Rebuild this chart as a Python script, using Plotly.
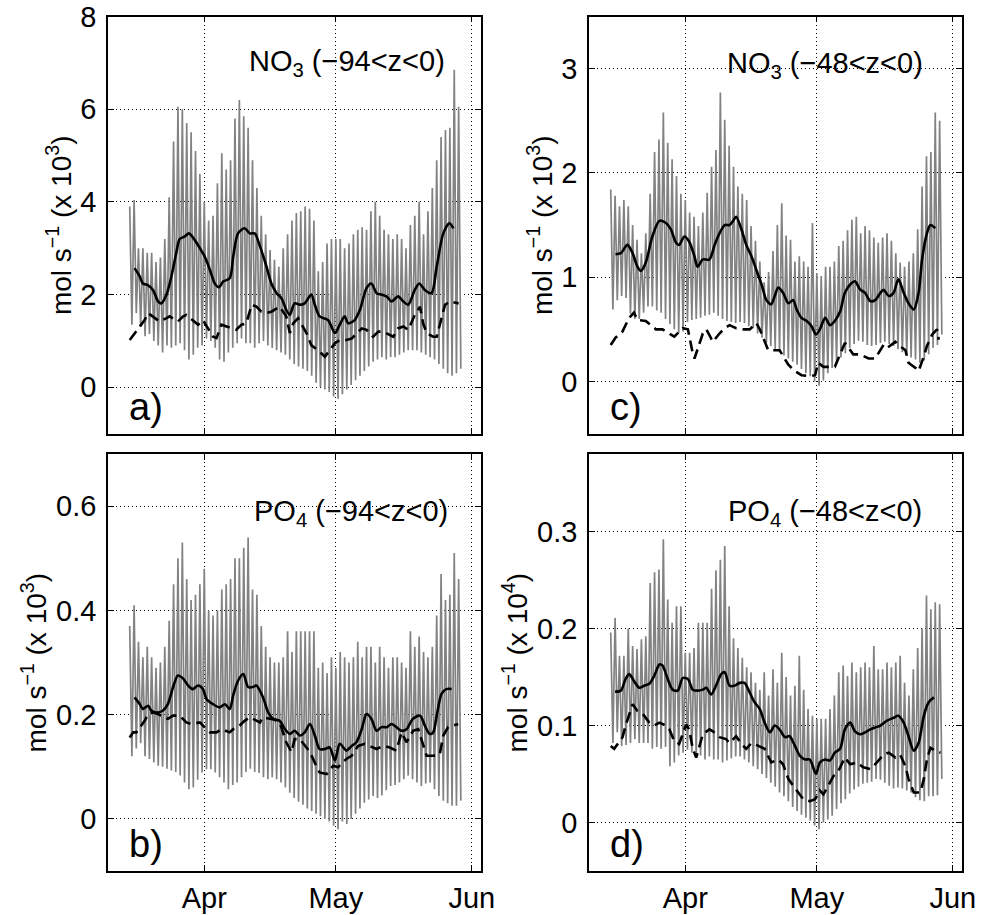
import plotly.graph_objects as go
from datetime import date

# ---------------- data (days since 15 March) ----------------
START = date(2005, 3, 15)
MONTHS = [date(2005, 4, 1), date(2005, 5, 1), date(2005, 6, 1)]
MONTH_LABELS = ["Apr", "May", "Jun"]

# Panel a: NO3 (-94<z<0), units 10^3 mol/s
a_hi = [3.9, 4.04, 3.0, 3.0, 2.9, 2.9, 2.7, 2.8, 3.2, 4.1, 5.3, 6.05, 6.0, 5.7, 5.5, 5.1, 4.6, 4.0, 3.6, 3.7,
        4.4, 5.05, 4.7, 4.9, 5.8, 6.2, 5.85, 5.6, 4.9, 4.3, 3.7, 3.3, 2.96, 2.75, 2.6, 3.0, 3.3, 3.6, 3.76, 3.8,
        3.9, 3.85, 3.6, 2.5, 2.7, 3.1, 3.2, 3.2, 3.2, 3.0, 3.1, 3.3, 3.4, 3.45, 3.4, 3.8, 4.0, 3.7, 3.4, 3.3,
        3.2, 3.3, 3.2, 3.0, 3.5, 3.7, 4.0, 3.3, 3.8, 4.3, 4.9, 5.4, 5.55, 5.6, 6.85, 6.05]
a_lo = [1.35, 1.6, 1.3, 1.1, 1.15, 1.0, 0.9, 0.75, 0.9, 0.85, 0.9, 0.95, 0.8, 0.6, 0.7, 0.85, 0.9, 1.05, 1.0, 0.85,
        0.6, 0.55, 0.75, 0.85, 0.95, 1.05, 0.95, 0.95, 0.85, 0.95, 1.0, 0.9, 0.85, 0.8, 0.75, 0.7, 0.6, 0.5, 0.45, 0.4,
        0.35, 0.25, 0.1, 0.0, -0.05, -0.1, -0.2, -0.25, -0.15, -0.05, 0.05, 0.15, 0.25, 0.35, 0.45, 0.55, 0.6, 0.65, 0.6, 0.65,
        0.65, 0.7, 0.75, 0.8, 0.8, 0.8, 0.75, 0.7, 0.65, 0.6, 0.5, 0.4, 0.3, 0.25, 0.3, 0.4]
a_mean_day = [1.1, 2.3, 3.0, 4.2, 5.3, 6.5, 7.2, 8.4, 9.5, 10.6, 11.4, 12.5, 13.5, 14.8, 16.0, 17.1, 18.3, 19.4, 20.4, 21.3,
              22.8, 23.6, 24.7, 26.2, 27.4, 28.5, 29.7, 31.2, 32.3, 33.5, 34.6, 35.7, 36.5, 37.6, 38.8, 39.9, 41.4, 42.2, 43.3, 45.2,
              46.8, 47.9, 49.0, 49.8, 51.3, 52.5, 54.0, 55.1, 56.3, 57.4, 58.6, 59.7, 61.2, 62.4, 63.5, 65.0, 66.0, 67.3, 68.8, 70.0,
              71.5, 72.9, 73.8]
a_mean_val = [2.57, 2.39, 2.24, 2.2, 2.1, 1.85, 1.81, 2.0, 2.39, 2.89, 3.2, 3.25, 3.32, 3.18, 3.0, 2.82, 2.53, 2.24, 2.16, 2.28,
              2.35, 2.82, 3.32, 3.43, 3.32, 3.32, 3.04, 2.6, 2.24, 2.03, 1.92, 1.67, 1.56, 1.81, 1.78, 1.81, 2.0, 1.78, 1.53, 1.45,
              1.17, 1.35, 1.53, 1.38, 1.45, 1.67, 2.14, 2.24, 2.03, 2.0, 1.96, 1.85, 1.96, 1.85, 1.78, 2.1, 2.24, 2.1, 2.03, 2.6,
              3.32, 3.54, 3.43]
a_dash_day = [0, 1.5, 3.4, 4.2, 5.3, 6.8, 8.4, 9.1, 11.0, 12.2, 12.9, 15.6, 16.7, 19.0, 19.8, 20.9, 22.1, 24.3, 25.5, 26.6,
              27.8, 28.9, 30.0, 31.2, 32.3, 33.5, 34.2, 35.7, 36.5, 37.3, 38.4, 40.3, 41.4, 43.3, 44.5, 46.8, 47.9, 49.4, 50.6, 52.9,
              54.0, 55.5, 56.7, 57.8, 60.1, 61.2, 62.4, 63.5, 65.0, 66.2, 66.9, 67.7, 69.2, 70.0, 70.7, 71.9, 73.0, 75.0]
a_dash_val = [1.02, 1.2, 1.45, 1.6, 1.53, 1.42, 1.49, 1.53, 1.42, 1.53, 1.56, 1.35, 1.45, 1.09, 1.06, 1.35, 1.31, 1.24, 1.35, 1.38,
              1.78, 1.74, 1.63, 1.6, 1.63, 1.7, 1.74, 1.53, 1.17, 1.38, 1.49, 1.17, 0.91, 0.77, 0.66, 0.95, 1.02, 1.02, 1.05, 1.27,
              1.24, 1.09, 1.2, 1.2, 1.09, 1.27, 1.31, 1.24, 1.56, 1.74, 1.38, 1.17, 1.09, 1.09, 1.35, 1.78, 1.85, 1.81]

# Panel c: NO3 (-48<z<0), units 10^3 mol/s
c_hi = [1.84, 1.78, 1.68, 1.74, 1.68, 1.5, 1.36, 1.23, 1.42, 1.8, 2.2, 2.32, 2.58, 2.29, 2.13, 1.97, 1.8, 1.74, 1.62, 1.58,
        1.49, 1.62, 1.81, 2.06, 2.22, 2.77, 2.51, 2.26, 2.06, 1.87, 1.8, 1.74, 1.49, 1.35, 1.15, 0.95, 1.05, 1.25, 1.5, 1.71,
        1.4, 1.36, 1.15, 1.2, 1.15, 1.1, 1.52, 1.04, 1.01, 1.1, 1.1, 1.15, 1.3, 1.35, 1.45, 1.55, 1.58, 1.42, 1.49, 1.45,
        1.38, 1.33, 1.38, 1.42, 1.35, 1.23, 1.14, 1.1, 1.15, 1.23, 1.46, 1.87, 2.16, 2.2, 2.58, 2.5]
c_lo = [0.69, 0.78, 0.82, 0.8, 0.65, 0.6, 0.6, 0.66, 0.72, 0.72, 0.68, 0.66, 0.6, 0.55, 0.5, 0.46, 0.48, 0.57, 0.59, 0.6,
        0.61, 0.63, 0.64, 0.66, 0.63, 0.6, 0.58, 0.57, 0.56, 0.57, 0.56, 0.53, 0.51, 0.46, 0.42, 0.37, 0.34, 0.31, 0.28, 0.25,
        0.22, 0.19, 0.16, 0.12, 0.08, 0.05, 0.0, -0.04, 0.01, 0.08, 0.13, 0.18, 0.23, 0.27, 0.32, 0.36, 0.39, 0.38, 0.35, 0.34,
        0.35, 0.37, 0.38, 0.36, 0.34, 0.31, 0.28, 0.25, 0.23, 0.21, 0.18, 0.2, 0.26, 0.32, 0.35, 0.45]
c_mean_day = [1.1, 2.3, 3.8, 5.0, 6.1, 6.9, 8.0, 9.5, 11.1, 12.6, 13.7, 14.9, 15.6, 16.8, 17.9, 19.1, 19.8, 21.0, 22.5, 23.7,
              24.8, 26.0, 27.1, 27.9, 28.6, 29.8, 30.9, 32.1, 33.2, 34.4, 35.5, 36.6, 37.4, 38.2, 39.3, 40.5, 41.6, 42.4, 43.5, 44.7,
              45.8, 46.8, 47.7, 48.9, 50.0, 51.1, 52.3, 53.4, 54.6, 55.7, 56.9, 58.0, 59.2, 60.3, 61.5, 62.2, 63.4, 64.5, 65.6, 66.8,
              67.9, 69.1, 70.2, 71.0, 72.1, 72.9, 74.0]
c_mean_val = [1.22, 1.23, 1.31, 1.23, 1.10, 1.06, 1.14, 1.39, 1.54, 1.52, 1.46, 1.33, 1.31, 1.39, 1.34, 1.2, 1.10, 1.17, 1.17, 1.31,
              1.42, 1.5, 1.5, 1.54, 1.58, 1.46, 1.31, 1.2, 1.07, 0.93, 0.78, 0.74, 0.82, 0.9, 0.85, 0.75, 0.78, 0.69, 0.61, 0.58,
              0.53, 0.45, 0.5, 0.61, 0.54, 0.58, 0.67, 0.85, 0.93, 0.96, 0.88, 0.85, 0.77, 0.78, 0.85, 0.88, 0.82, 0.85, 0.98, 0.85,
              0.75, 0.69, 0.85, 1.17, 1.42, 1.5, 1.47]
c_dash_day = [0, 1.1, 2.7, 4.2, 5.3, 6.1, 8.0, 9.2, 10.3, 11.8, 13.4, 14.5, 16.4, 17.6, 18.7, 19.1, 21.0, 21.8, 23.3, 24.8,
              26.0, 27.1, 28.6, 30.2, 31.7, 33.2, 34.0, 35.5, 35.9, 37.0, 38.5, 40.5, 42.0, 43.5, 45.4, 46.6, 47.3, 48.5, 49.6, 51.1,
              53.1, 53.4, 55.3, 56.9, 58.8, 60.3, 62.2, 63.0, 64.9, 65.6, 67.2, 67.9, 69.5, 70.2, 71.4, 72.1, 73.3, 74.4, 74.8]
c_dash_val = [0.35, 0.42, 0.48, 0.61, 0.66, 0.59, 0.58, 0.54, 0.5, 0.5, 0.46, 0.43, 0.51, 0.5, 0.27, 0.22, 0.46, 0.5, 0.38, 0.46,
              0.51, 0.54, 0.51, 0.5, 0.5, 0.56, 0.5, 0.35, 0.3, 0.3, 0.3, 0.16, 0.1, 0.06, 0.05, 0.06, 0.18, 0.14, 0.14, 0.14,
              0.34, 0.37, 0.26, 0.26, 0.22, 0.22, 0.35, 0.32, 0.38, 0.35, 0.3, 0.18, 0.13, 0.1, 0.24, 0.34, 0.45, 0.5, 0.4]

# Panel b: PO4 (-94<z<0), units 10^3 mol/s
b_hi = [0.37, 0.41, 0.34, 0.31, 0.33, 0.31, 0.29, 0.3, 0.33, 0.38, 0.45, 0.5, 0.53, 0.46, 0.42, 0.43, 0.45, 0.48, 0.40, 0.39,
        0.40, 0.44, 0.45, 0.46, 0.50, 0.50, 0.52, 0.54, 0.44, 0.43, 0.37, 0.33, 0.31, 0.30, 0.30, 0.31, 0.36, 0.32, 0.36, 0.36,
        0.36, 0.36, 0.36, 0.29, 0.30, 0.28, 0.31, 0.29, 0.32, 0.31, 0.30, 0.31, 0.34, 0.31, 0.33, 0.33, 0.30, 0.33, 0.31, 0.29,
        0.31, 0.31, 0.30, 0.29, 0.36, 0.33, 0.35, 0.32, 0.31, 0.33, 0.39, 0.47, 0.42, 0.43, 0.51, 0.46]
b_lo = [0.12, 0.135, 0.145, 0.12, 0.115, 0.108, 0.102, 0.1, 0.096, 0.093, 0.09, 0.083, 0.07, 0.057, 0.06, 0.075, 0.089, 0.095, 0.095, 0.089,
        0.08, 0.07, 0.057, 0.065, 0.07, 0.08, 0.09, 0.096, 0.09, 0.088, 0.08, 0.076, 0.08, 0.076, 0.07, 0.06, 0.05, 0.04, 0.033, 0.027,
        0.02, 0.015, 0.01, 0.005, 0.0, -0.005, -0.013, -0.02, -0.005, -0.01, 0.0, 0.01, 0.02, 0.031, 0.037, 0.044, 0.04, 0.045, 0.055, 0.063,
        0.065, 0.07, 0.076, 0.083, 0.076, 0.07, 0.063, 0.068, 0.07, 0.057, 0.044, 0.035, 0.03, 0.025, 0.025, 0.035]
b_mean_day = [1.1, 2.3, 3.0, 4.2, 4.9, 6.1, 7.6, 8.7, 9.9, 11.0, 12.2, 13.3, 14.4, 15.6, 16.7, 17.5, 19.0, 20.5, 21.7, 22.8,
              23.6, 24.7, 25.9, 27.0, 28.1, 28.9, 30.4, 31.6, 32.7, 34.2, 35.4, 36.5, 37.6, 38.8, 39.9, 41.1, 42.2, 43.3, 44.5, 45.6,
              46.8, 47.9, 49.4, 50.6, 51.7, 52.9, 54.0, 55.1, 56.3, 57.4, 58.6, 59.7, 60.8, 62.0, 63.1, 64.6, 66.2, 67.3, 68.4, 69.2,
              70.0, 71.1, 72.2, 73.4]
b_mean_val = [0.233, 0.22, 0.211, 0.217, 0.208, 0.204, 0.208, 0.22, 0.253, 0.275, 0.269, 0.256, 0.249, 0.256, 0.249, 0.23, 0.22, 0.214, 0.22, 0.211,
              0.237, 0.265, 0.278, 0.253, 0.253, 0.256, 0.233, 0.204, 0.192, 0.188, 0.172, 0.163, 0.169, 0.16, 0.166, 0.182, 0.16, 0.134, 0.134, 0.137,
              0.112, 0.144, 0.131, 0.14, 0.147, 0.172, 0.201, 0.192, 0.169, 0.176, 0.176, 0.182, 0.176, 0.169, 0.172, 0.192, 0.198, 0.179, 0.163, 0.166,
              0.198, 0.24, 0.249, 0.249]
b_dash_day = [0, 0.8, 1.5, 3.4, 4.2, 5.3, 6.5, 7.6, 8.7, 9.9, 11.4, 12.9, 14.1, 16.0, 17.5, 18.3, 19.8, 20.9, 22.8, 23.6,
              24.7, 26.2, 27.4, 28.5, 29.7, 30.4, 31.9, 33.1, 34.2, 35.7, 36.9, 37.6, 38.8, 39.9, 41.1, 42.2, 43.3, 44.9, 46.4, 47.5,
              49.4, 50.6, 52.1, 53.6, 54.8, 56.3, 57.8, 59.3, 60.8, 62.0, 63.1, 64.6, 65.8, 66.5, 67.7, 69.2, 70.7, 71.5, 72.6, 74.9]
b_dash_val = [0.156, 0.166, 0.166, 0.188, 0.201, 0.204, 0.201, 0.195, 0.192, 0.198, 0.198, 0.185, 0.182, 0.185, 0.172, 0.166, 0.166, 0.172, 0.166, 0.172,
              0.176, 0.188, 0.195, 0.19, 0.185, 0.195, 0.192, 0.19, 0.185, 0.147, 0.128, 0.153, 0.153, 0.14, 0.128, 0.108, 0.089, 0.086, 0.102, 0.099,
              0.115, 0.121, 0.14, 0.144, 0.14, 0.134, 0.14, 0.137, 0.131, 0.166, 0.147, 0.169, 0.172, 0.153, 0.121, 0.121, 0.124, 0.16, 0.176, 0.182]

# Panel d: PO4 (-48<z<0), units 10^4 mol/s
d_hi = [0.196, 0.211, 0.172, 0.172, 0.2, 0.182, 0.179, 0.189, 0.192, 0.247, 0.258, 0.261, 0.292, 0.23, 0.206, 0.223, 0.223, 0.175, 0.175, 0.18,
        0.206, 0.206, 0.206, 0.241, 0.26, 0.271, 0.285, 0.223, 0.19, 0.18, 0.17, 0.16, 0.155, 0.144, 0.137, 0.155, 0.131, 0.158, 0.144, 0.175,
        0.15, 0.131, 0.141, 0.172, 0.137, 0.117, 0.11, 0.107, 0.107, 0.107, 0.117, 0.131, 0.155, 0.162, 0.151, 0.165, 0.155, 0.16, 0.165, 0.16,
        0.182, 0.158, 0.158, 0.165, 0.16, 0.165, 0.172, 0.144, 0.131, 0.158, 0.18, 0.2, 0.234, 0.22, 0.227, 0.225]
d_lo = [0.082, 0.093, 0.079, 0.08, 0.082, 0.086, 0.082, 0.082, 0.082, 0.076, 0.078, 0.076, 0.078, 0.058, 0.062, 0.069, 0.072, 0.075, 0.072, 0.069,
        0.069, 0.065, 0.068, 0.065, 0.065, 0.062, 0.064, 0.066, 0.068, 0.068, 0.065, 0.062, 0.058, 0.055, 0.05, 0.046, 0.041, 0.037, 0.031, 0.027,
        0.022, 0.016, 0.012, 0.008, 0.005, 0.002, -0.003, -0.007, 0.0, 0.003, 0.007, 0.014, 0.02, 0.024, 0.03, 0.034, 0.037, 0.04, 0.041, 0.042,
        0.045, 0.044, 0.041, 0.038, 0.035, 0.036, 0.035, 0.033, 0.031, 0.026, 0.023, 0.022, 0.027, 0.027, 0.028, 0.045]
d_mean_day = [1.0, 2.3, 3.4, 4.2, 5.3, 6.5, 7.6, 8.8, 9.9, 11.1, 11.8, 13.0, 14.1, 15.3, 16.4, 17.6, 18.7, 19.8, 21.0, 21.8,
              22.9, 24.0, 25.2, 26.0, 27.1, 28.2, 29.4, 30.5, 31.7, 32.8, 34.0, 35.1, 36.3, 37.4, 38.5, 39.7, 40.8, 42.0, 43.1, 44.3,
              45.4, 46.8, 47.7, 48.9, 50.0, 51.1, 52.3, 53.4, 54.6, 55.7, 56.9, 58.0, 59.2, 60.3, 61.5, 63.0, 64.5, 65.6, 66.8, 67.9,
              69.1, 70.2, 71.4, 72.5, 73.7]
d_mean_val = [0.135, 0.136, 0.148, 0.153, 0.146, 0.139, 0.141, 0.143, 0.151, 0.163, 0.162, 0.148, 0.137, 0.136, 0.149, 0.148, 0.137, 0.136, 0.137, 0.139,
              0.132, 0.141, 0.153, 0.155, 0.141, 0.141, 0.144, 0.144, 0.134, 0.124, 0.117, 0.103, 0.093, 0.1, 0.096, 0.088, 0.089, 0.079, 0.069, 0.065,
              0.065, 0.05, 0.062, 0.065, 0.064, 0.072, 0.076, 0.096, 0.103, 0.094, 0.091, 0.093, 0.096, 0.098, 0.1, 0.105, 0.108, 0.11, 0.103, 0.089,
              0.074, 0.082, 0.11, 0.124, 0.129]
d_dash_day = [0, 0.8, 2.7, 3.4, 5.0, 6.1, 7.3, 8.8, 9.9, 11.1, 12.6, 13.4, 14.5, 15.6, 17.2, 17.9, 18.7, 19.5, 21.0, 22.5,
              23.3, 24.8, 26.3, 27.1, 28.6, 29.8, 30.9, 32.1, 33.2, 34.4, 35.1, 36.6, 38.2, 39.3, 40.5, 41.6, 42.7, 43.9, 45.4, 46.6,
              47.7, 48.5, 49.6, 50.8, 51.9, 53.4, 54.6, 56.1, 57.6, 59.2, 60.7, 62.2, 63.4, 64.9, 66.0, 67.2, 67.9, 69.1, 70.6, 71.4,
              72.1, 72.9, 74.0, 75.2]
d_dash_val = [0.079, 0.076, 0.088, 0.1, 0.122, 0.115, 0.112, 0.103, 0.1, 0.103, 0.1, 0.096, 0.084, 0.081, 0.101, 0.096, 0.076, 0.067, 0.091, 0.096,
              0.094, 0.088, 0.086, 0.082, 0.089, 0.081, 0.076, 0.082, 0.08, 0.077, 0.076, 0.062, 0.065, 0.06, 0.045, 0.038, 0.031, 0.024, 0.022, 0.024,
              0.033, 0.029, 0.038, 0.048, 0.053, 0.067, 0.06, 0.062, 0.057, 0.055, 0.062, 0.07, 0.072, 0.067, 0.07, 0.058, 0.045, 0.031, 0.031, 0.045,
              0.065, 0.077, 0.074, 0.072]

PANELS = [
    dict(ax="", hi=a_hi, lo=a_lo, md=a_mean_day, mv=a_mean_val, dd=a_dash_day, dv=a_dash_val,
         yr=[-1, 8], dt=2, sp="NO", sub="3", depth="(−94<z<0)", exp="3", letter="a)"),
    dict(ax="2", hi=c_hi, lo=c_lo, md=c_mean_day, mv=c_mean_val, dd=c_dash_day, dv=c_dash_val,
         yr=[-0.5, 3.5], dt=1, sp="NO", sub="3", depth="(−48<z<0)", exp="3", letter="c)"),
    dict(ax="3", hi=b_hi, lo=b_lo, md=b_mean_day, mv=b_mean_val, dd=b_dash_day, dv=b_dash_val,
         yr=[-0.1, 0.7], dt=0.2, sp="PO", sub="4", depth="(−94<z<0)", exp="3", letter="b)"),
    dict(ax="4", hi=d_hi, lo=d_lo, md=d_mean_day, mv=d_mean_val, dd=d_dash_day, dv=d_dash_val,
         yr=[-0.05, 0.38], dt=0.1, sp="PO", sub="4", depth="(−48<z<0)", exp="4", letter="d)"),
]

W, H = 981, 915
XDOM = {"": [108, 481], "2": [589, 962], "3": [108, 481], "4": [589, 962]}
YDOM = {"": [16.5, 433.6], "2": [16.5, 433.6], "3": [454, 871], "4": [454, 871]}
NOTE_POS = {"": (0.909, 0.889), "2": (0.902, 0.884), "3": (0.917, 0.859), "4": (0.897, 0.859)}
TITLE_X = {"": 59, "2": 540, "3": 34, "4": 515}

FONT = "Liberation Sans, Arial, Helvetica, sans-serif"
tickvals = [(m - START).days for m in MONTHS]
xrange = [-4.95, 80.1]

fig = go.Figure()
layout = dict(width=W, height=H, margin=dict(l=0, r=0, t=0, b=0, autoexpand=False), showlegend=False,
              paper_bgcolor="white", plot_bgcolor="white", font=dict(family=FONT, size=29, color="black"))
annotations = []

for p in PANELS:
    s = p["ax"]
    xa, ya = "x" + s, "y" + s
    gx, gy = [], []
    for i, (h, l) in enumerate(zip(p["hi"], p["lo"])):
        gx += [i, i + 0.5]
        gy += [h, l]
    fig.add_trace(go.Scatter(x=gx, y=gy, mode="lines", xaxis=xa, yaxis=ya,
                             line=dict(color="#828282", width=1.7), hoverinfo="skip"))
    fig.add_trace(go.Scatter(x=p["dd"], y=p["dv"], mode="lines", xaxis=xa, yaxis=ya,
                             line=dict(color="black", width=2.6, dash="11px,6px")))
    fig.add_trace(go.Scatter(x=p["md"], y=p["mv"], mode="lines", xaxis=xa, yaxis=ya,
                             line=dict(color="black", width=2.6, shape="spline", smoothing=0.8)))

    x0, x1 = XDOM[s]
    y0, y1 = YDOM[s]
    common = dict(showline=True, linecolor="black", linewidth=1.5, mirror="ticks",
                  ticks="inside", ticklen=6, tickcolor="black", tickwidth=1, automargin=False,
                  showgrid=True, gridcolor="black", griddash="1px,3px", gridwidth=1,
                  zeroline=False, tickfont=dict(family=FONT, size=29, color="black"))
    layout["xaxis" + s] = dict(common, domain=[x0 / W, x1 / W], range=xrange,
                               anchor=ya, tickmode="array", tickvals=tickvals, ticktext=MONTH_LABELS,
                               showticklabels=(s in ("3", "4")))
    layout["yaxis" + s] = dict(common, domain=[1 - y1 / H, 1 - y0 / H], range=p["yr"],
                               anchor=xa, tick0=0, dtick=p["dt"], ticklabelstandoff=4)

    nx, ny = NOTE_POS[s]
    annotations.append(dict(xref=xa + " domain", yref=ya + " domain", x=nx, y=ny,
                            xanchor="right", yanchor="middle", showarrow=False,
                            text=f"{p['sp']}<sub>{p['sub']}</sub> {p['depth']}",
                            font=dict(family=FONT, size=29, color="black")))
    annotations.append(dict(xref=xa + " domain", yref=ya + " domain", x=0.05, y=0.064,
                            xanchor="left", yanchor="middle", showarrow=False,
                            text=p["letter"], font=dict(family=FONT, size=38, color="black")))
    annotations.append(dict(xref="paper", yref="paper", x=TITLE_X[s] / W, y=1 - (y0 + y1) / 2 / H,
                            xanchor="center", yanchor="middle", showarrow=False, textangle=-90,
                            text=f"mol s<sup>−1</sup> (x 10<sup>{p['exp']}</sup>)",
                            font=dict(family=FONT, size=28, color="black")))

layout["annotations"] = annotations
fig.update_layout(**layout)
fig.write_html("out.html", config={"displayModeBar": False},
               post_script="document.body.style.margin='0';document.body.style.padding='0';")
